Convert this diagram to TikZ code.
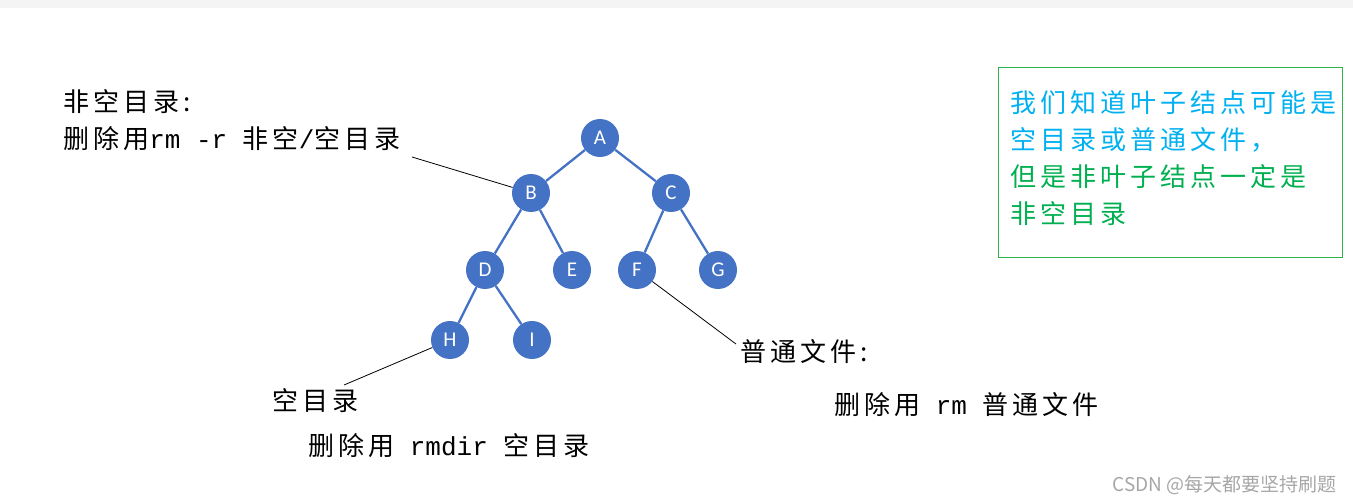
\documentclass[tikz,border=0pt]{standalone}
\usepackage{xcolor}
\usepackage{fontspec}
\usepackage{tikz}
\usetikzlibrary{positioning}
\newfontfamily\cjkfont[LetterSpace=15.5]{Noto Sans CJK SC}
\newfontfamily\plainfont{Noto Sans CJK SC}
\newfontfamily\cmdfont[Scale=1.0]{Liberation Mono}
\newfontfamily\labelfont{Carlito}
\definecolor{NodeBlue}{HTML}{4472C4}
\definecolor{TextBlue}{HTML}{00B0F0}
\definecolor{TextGreen}{HTML}{00B050}
\definecolor{FrameGreen}{HTML}{2EB24A}
\definecolor{MarkGray}{HTML}{A6A6A6}
\definecolor{TopGray}{HTML}{F4F4F4}

\begin{document}
\begin{tikzpicture}[
  x=1pt, y=-1pt, on grid,
  treenode/.style={circle, fill=NodeBlue, minimum size=38pt, inner sep=0pt, text=white, font=\labelfont\fontsize{21}{21}\selectfont},
  treeedge/.style={draw=NodeBlue, line width=2.3pt},
  callout/.style={draw=black, line width=0.8pt},
  note/.style={inner sep=0pt, anchor=west, align=left, font=\cjkfont\fontsize{26}{37}\selectfont},
  noteframe/.style={draw=FrameGreen, line width=1pt, minimum width=344pt, minimum height=189pt, inner sep=0pt},
  watermark/.style={inner sep=0pt, anchor=east, text=MarkGray, font=\plainfont\fontsize{19}{19}\selectfont}
]
  \useasboundingbox (0,0) rectangle (1353,500);
  \fill[TopGray] (0,0) rectangle (1353,8);

  % tree
  \node[treenode] (A) at (600,138) {A};
  \node[treenode, below left=55pt and 69pt of A] (B) {B};
  \node[treenode, below right=55pt and 71pt of A] (C) {C};
  \node[treenode, below left=77pt and 46pt of B] (D) {D};
  \node[treenode, below right=77pt and 41pt of B] (E) {E};
  \node[treenode, below left=77pt and 34pt of C] (F) {F};
  \node[treenode, below right=77pt and 47pt of C] (G) {G};
  \node[treenode, below left=70pt and 35pt of D] (H) {H};
  \node[treenode, below right=70pt and 47pt of D] (I) {I};

  \draw[treeedge] (A) -- (B);
  \draw[treeedge] (A) -- (C);
  \draw[treeedge] (B) -- (D);
  \draw[treeedge] (B) -- (E);
  \draw[treeedge] (C) -- (F);
  \draw[treeedge] (C) -- (G);
  \draw[treeedge] (D) -- (H);
  \draw[treeedge] (D) -- (I);

  % labels
  \node[note] (nonempty) at (63,120.25) {非空目录:\\删除用{\cmdfont rm -r }非空{\cmdfont/}空目录};
  \node[note] (empty) at (272,401) {空目录};
  \node[note] (emptycmd) at (308,445.5) {删除用{\cmdfont\ rmdir\ }空目录};
  \node[note] (file) at (740,352) {普通文件:};
  \node[note] (filecmd) at (834,405) {删除用{\cmdfont\ rm\ }普通文件};

  \coordinate (nonemptytip) at (412,157);
  \coordinate (emptytip) at (344,385);
  \coordinate (filetip) at (736,344);
  \draw[callout] (nonemptytip) -- (B);
  \draw[callout] (H) -- (emptytip);
  \draw[callout] (F) -- (filetip);

  % side note
  \node[noteframe] (frame) at (1170,162.5) {};
  \node[note] (summary) at (1010,158.5) {\textcolor{TextBlue}{我们知道叶子结点可能是}\\\textcolor{TextBlue}{空目录或普通文件，}\\\textcolor{TextGreen}{但是非叶子结点一定是}\\\textcolor{TextGreen}{非空目录}};

  \node[watermark] (mark) at (1337,485) {CSDN @每天都要坚持刷题};
\end{tikzpicture}
\end{document}
